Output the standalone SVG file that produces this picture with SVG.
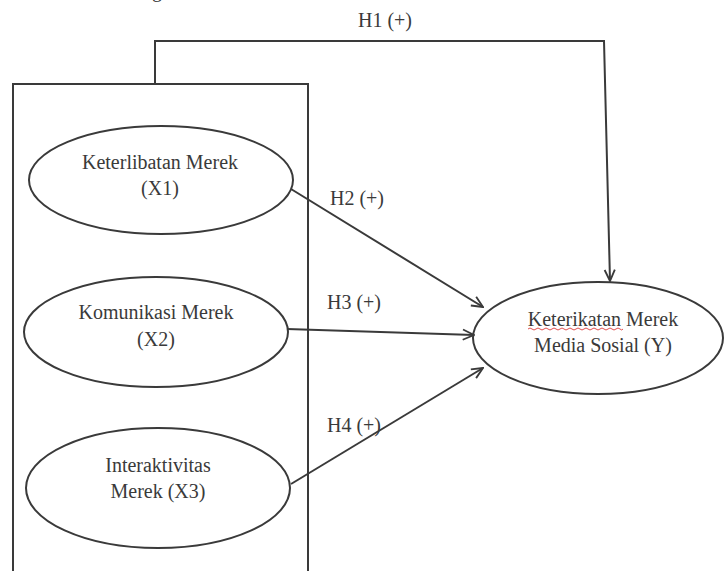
<svg xmlns="http://www.w3.org/2000/svg" width="726" height="571" viewBox="0 0 726 571">
<style>
  .shape { fill: none; stroke: #3a3a3a; stroke-width: 2; }
  .lbl { font-family: "Liberation Serif", "Times New Roman", serif; font-size: 20px; fill: #3a3a3a; text-anchor: middle; }
  .conn { fill: none; stroke: #3a3a3a; stroke-width: 2; marker-end: url(#arr); }
</style>
<defs>
  <marker id="arr" viewBox="0 0 14 14" refX="13" refY="7" markerWidth="13" markerHeight="13" markerUnits="userSpaceOnUse" orient="auto">
    <path d="M1,1.5 L13,7 L1,12.5" fill="none" stroke="#3a3a3a" stroke-width="2"/>
  </marker>
</defs>
<rect width="726" height="571" fill="#ffffff"/>
<text class="lbl" x="157" y="-3">g</text>
<g id="group-box">
  <rect class="shape" x="13" y="84" width="295" height="520"/>
</g>
<g id="x1">
  <ellipse class="shape" cx="161" cy="180" rx="132" ry="54"/>
  <text class="lbl" x="160" y="169">Keterlibatan Merek</text>
  <text class="lbl" x="160" y="195">(X1)</text>
</g>
<g id="x2">
  <ellipse class="shape" cx="156" cy="332" rx="132" ry="55"/>
  <text class="lbl" x="156" y="319">Komunikasi Merek</text>
  <text class="lbl" x="156" y="346">(X2)</text>
</g>
<g id="x3">
  <ellipse class="shape" cx="158" cy="488" rx="132" ry="60"/>
  <text class="lbl" x="158" y="472">Interaktivitas</text>
  <text class="lbl" x="158" y="498">Merek (X3)</text>
</g>
<g id="y">
  <ellipse class="shape" cx="598" cy="338" rx="125" ry="56"/>
  <text class="lbl" x="603" y="326">Keterikatan Merek</text>
  <path d="M528,329 q2,-2 4,0 t4,0 t4,0 t4,0 t4,0 t4,0 t4,0 t4,0 t4,0 t4,0 t4,0 t4,0 t4,0 t4,0 t4,0 t4,0 t4,0 t4,0 t4,0 t4,0 t4,0 t4,0 t4,0 t3,0" fill="none" stroke="#e05050" stroke-width="1"/>
  <text class="lbl" x="603" y="352">Media Sosial (Y)</text>
</g>
<g id="connectors">
  <path class="conn" d="M155,84 V41 H604 L610,281"/>
  <path class="conn" d="M291,189 L483,307"/>
  <path class="conn" d="M287,329 L474,335"/>
  <path class="conn" d="M291,484 L483,368"/>
  <text class="lbl" x="385" y="27">H1 (+)</text>
  <text class="lbl" x="357" y="205">H2 (+)</text>
  <text class="lbl" x="354" y="309">H3 (+)</text>
  <text class="lbl" x="354" y="432">H4 (+)</text>
</g>
</svg>
